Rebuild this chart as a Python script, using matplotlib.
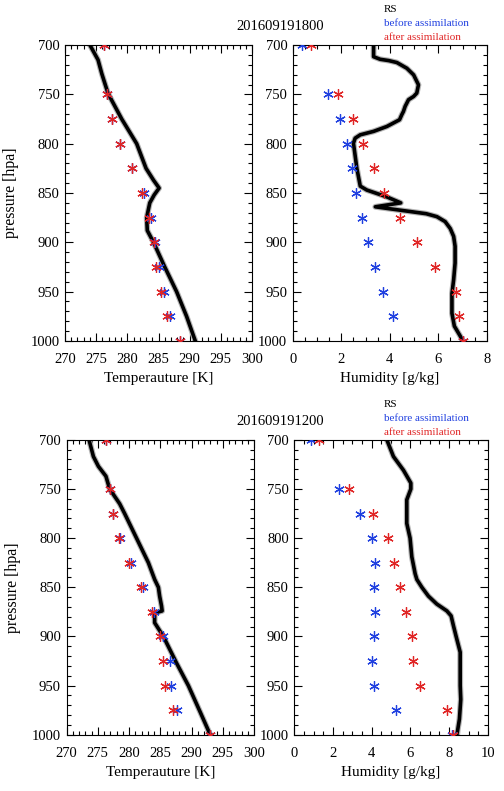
import matplotlib
matplotlib.use('Agg')
import matplotlib.pyplot as plt
import matplotlib.patheffects as pe
from matplotlib.ticker import MultipleLocator

plt.rcParams['font.family'] = ['Liberation Serif', 'DejaVu Serif']

# niveis de pressao das analises
niveis = [700, 750, 775, 800, 825, 850, 875, 900, 925, 950, 975, 1000]

# 201609191800 - temperatura
t1_antes = [276.2, 276.8, 277.6, 278.9, 280.7, 282.6, 283.8, 284.4, 285.1, 285.9, 286.9, 288.5]
t1_depois = [276.2, 276.8, 277.6, 278.9, 280.7, 282.3, 283.4, 284.2, 284.6, 285.4, 286.3, 288.5]
p1_rs_t = [700, 715, 729, 749, 775, 800, 825, 837, 845, 852, 860, 875, 888, 900, 925, 950, 975, 1000]
t1_rs = [274.0, 275.3, 275.9, 276.9, 279.1, 281.5, 283.0, 284.2, 285.1, 284.3, 283.6, 283.1, 283.2, 284.2, 286.0, 287.9, 289.5, 290.9]

# 201609191800 - umidade
q1_antes = [0.37, 1.43, 1.95, 2.23, 2.43, 2.60, 2.87, 3.12, 3.40, 3.71, 4.12, 7.0]
q1_depois = [0.76, 1.88, 2.50, 2.91, 3.33, 3.77, 4.40, 5.11, 5.87, 6.72, 6.87, 7.0]
p1_rs_q = [700, 711.8, 714.4, 715.7, 717.7, 723.5, 730.2, 740.3, 748.7, 752.1, 755.4, 762.2, 767.3,
           770.7, 775.7, 782.5, 787.5, 791, 794.4, 799.5, 825, 843, 847, 854, 860, 864, 868, 871,
           874, 879, 886, 894, 904, 921, 938, 952, 972, 985, 995, 1000]
q1_rs = [3.33, 3.33, 3.60, 3.95, 4.29, 4.70, 4.98, 5.18, 5.11, 4.98, 4.77, 4.63, 4.56,
         4.49, 4.40, 3.88, 3.33, 2.78, 2.57, 2.50, 2.64, 2.78, 3.05, 3.88, 4.45, 3.40, 4.60, 5.50,
         5.94, 6.28, 6.49, 6.63, 6.69, 6.69, 6.63, 6.56, 6.56, 6.66, 6.90, 7.0]

# 201609191200 - temperatura
t2_antes = [276.3, 276.9, 277.5, 278.6, 280.3, 282.2, 284.0, 285.5, 286.6, 286.7, 287.7, 292.9]
t2_depois = [276.3, 276.9, 277.5, 278.4, 280.0, 281.85, 283.6, 284.9, 285.5, 285.7, 287.0, 292.9]
p2_rs_t = [700, 717, 727, 737, 750, 765, 775, 800, 825, 842, 850, 859, 869, 874, 876, 886, 900, 927, 950, 977, 1000]
t2_rs = [273.6, 274.3, 275.1, 276.3, 276.9, 278.5, 279.3, 281.2, 283.1, 284.1, 284.7, 284.9, 285.2, 285.3,
         284.1, 284.1, 285.5, 287.6, 289.5, 291.4, 293.0]

# 201609191200 - umidade
q2_antes = [0.86, 2.31, 3.40, 4.03, 4.17, 4.14, 4.17, 4.12, 4.00, 4.12, 5.24, 8.14]
q2_depois = [1.30, 2.85, 4.05, 4.86, 5.17, 5.47, 5.78, 6.07, 6.12, 6.50, 7.88, 8.22]
p2_rs_q = [700, 717, 731, 744, 750, 761, 785, 800, 819, 836, 842, 850, 859, 867, 874, 879, 889, 900,
           916, 937, 950, 964, 984, 1000]
q2_rs = [4.78, 5.12, 5.64, 6.02, 6.02, 5.81, 5.81, 5.98, 6.07, 6.24, 6.33, 6.59, 6.93, 7.36, 7.88, 8.10,
         8.22, 8.36, 8.57, 8.57, 8.57, 8.60, 8.53, 8.40]

asterisco = (6, 2, 0)
azul = '#2040e0'
vermelho = '#e02525'


# Função para desenhar um painel
def painel(ax, x_rs, p_rs, x_antes, x_depois, xlim, xmaior, xmenor, xlabel, ylabel=None):
    ax.plot(x_rs, p_rs, color='black', lw=2.6, solid_joinstyle='round',
            path_effects=[pe.Stroke(linewidth=4.2, foreground='#b4b4b4'), pe.Normal()], zorder=2)
    ax.plot(x_antes, niveis, ls='none', marker=asterisco, ms=7.5, mew=0.9, color=azul, zorder=3)
    ax.plot(x_depois, niveis, ls='none', marker=asterisco, ms=7.5, mew=0.9, color=vermelho, zorder=4)
    ax.set_xlim(xlim)
    ax.set_ylim(1000, 700)
    ax.xaxis.set_major_locator(MultipleLocator(xmaior))
    ax.xaxis.set_minor_locator(MultipleLocator(xmenor))
    ax.yaxis.set_major_locator(MultipleLocator(50))
    ax.yaxis.set_minor_locator(MultipleLocator(10))
    ax.tick_params(which='both', direction='in', top=True, right=True, labelsize=10.5)
    ax.tick_params(which='major', length=6, width=0.8)
    ax.tick_params(which='minor', length=3, width=0.8)
    ax.tick_params(axis='x', pad=9)
    ax.tick_params(axis='y', pad=4)
    ax.set_xlabel(xlabel, fontsize=11, labelpad=4)
    if ylabel:
        ax.set_ylabel(ylabel, fontsize=11.5, labelpad=8)


fig = plt.figure(figsize=(5.04, 7.91), dpi=100)

ax1 = fig.add_axes([0.129, 0.569, 0.371, 0.374])
ax2 = fig.add_axes([0.581, 0.569, 0.385, 0.374])
ax3 = fig.add_axes([0.132, 0.071, 0.372, 0.373])
ax4 = fig.add_axes([0.584, 0.071, 0.384, 0.373])

painel(ax1, t1_rs, p1_rs_t, t1_antes, t1_depois, (270, 300), 5, 1, 'Temperauture [K]', 'pressure [hpa]')
painel(ax2, q1_rs, p1_rs_q, q1_antes, q1_depois, (0, 8), 2, 0.5, 'Humidity [g/kg]')
painel(ax3, t2_rs, p2_rs_t, t2_antes, t2_depois, (270, 300), 5, 1, 'Temperauture [K]', 'pressure [hpa]')
painel(ax4, q2_rs, p2_rs_q, q2_antes, q2_depois, (0, 10), 2, 0.5, 'Humidity [g/kg]')

# titulos e legendas
for y_titulo, titulo, y_leg in [(0.966, '201609191800', 0.988), (0.4665, '201609191200', 0.489)]:
    fig.text(0.555, y_titulo, titulo, ha='center', va='center', fontsize=10.5)
    fig.text(0.762, y_leg, 'RS', ha='left', va='center', fontsize=8, color='black')
    fig.text(0.762, y_leg - 0.0177, 'before assimilation', ha='left', va='center', fontsize=8, color=azul)
    fig.text(0.762, y_leg - 0.0354, 'after assimilation', ha='left', va='center', fontsize=8, color=vermelho)

fig.savefig('out.png', dpi=100)
